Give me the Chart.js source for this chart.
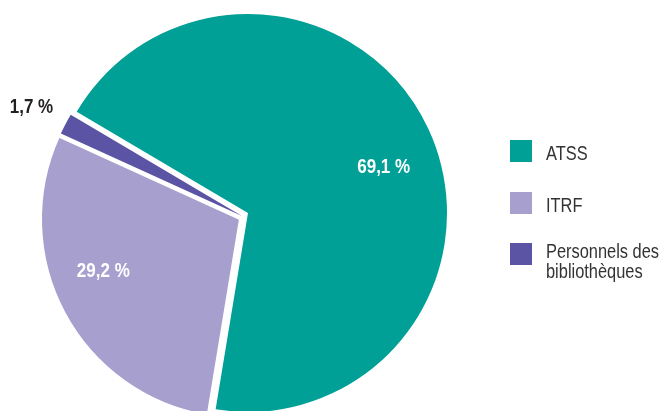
<!DOCTYPE html>
<html><head><meta charset="utf-8">
<script src="https://cdn.jsdelivr.net/npm/chart.js@4/dist/chart.umd.min.js"></script>
<style>
html,body{margin:0;padding:0;background:#fff;overflow:hidden;width:662px;height:411px}
#wrap{position:relative;width:662px;height:411px;overflow:hidden}
canvas{position:absolute}
#a{left:0;top:0}
#b{left:-8px;top:6px}
#c{left:-6px;top:3px}
#legend{position:absolute;left:0;top:0;width:662px;height:411px;font-family:"Liberation Sans",Arial,sans-serif;font-size:20px;color:#333}
.sw{position:absolute;width:22px;height:22px;left:510px}
.tx{position:absolute;left:546px;line-height:20px;white-space:nowrap;transform:scaleX(0.82);transform-origin:left top}
</style>
</head><body>
<div id="wrap">
<canvas id="a" width="662" height="440"></canvas>
<canvas id="c" width="662" height="440"></canvas>
<canvas id="b" width="662" height="440"></canvas>
<div id="legend"></div>
</div>
<script>
const categories = ["ATSS", "ITRF", "Personnels des\nbibliothèques"];
const values = [69.1, 29.2, 1.7];
const colors = ["#00a096", "#a7a0cf", "#5b53a3"];
const labelColors = ["#ffffff", "#ffffff", "#231f20"];

const LABEL_FONT = 'bold 20px "Liberation Sans",Arial,sans-serif';
const LABEL_SCALE_X = 0.85;
// per-slice label placement (radius factor, angular nudge in degrees)
const labelPlace = [[0.72, 6.3], [0.736, 7.0], [1.19, -0.3]];
// per-slice white outline width
const outline = [0, 2, 0];

function fmt(v){ return v.toFixed(1).replace('.', ',') + ' %'; }

function labelPlugin(i){
  return {
    id: 'sliceLabel',
    afterDatasetsDraw(chart){
      const ctx = chart.ctx;
      const arc = chart.getDatasetMeta(0).data[i];
      const p = arc.getProps(['x','y','startAngle','endAngle','outerRadius'], true);
      const mid = (p.startAngle + p.endAngle) / 2 + labelPlace[i][1] * Math.PI / 180;
      const r = p.outerRadius * labelPlace[i][0];
      ctx.save();
      ctx.translate(p.x + Math.cos(mid) * r, p.y + Math.sin(mid) * r);
      ctx.scale(LABEL_SCALE_X, 1);
      ctx.font = LABEL_FONT;
      ctx.textAlign = 'center';
      ctx.textBaseline = 'middle';
      ctx.fillStyle = labelColors[i];
      ctx.fillText(fmt(values[i]), 0, 0);
      ctx.restore();
    }
  };
}

// one canvas per slice, so each slice can be pulled out of the pie on its own
['a', 'b', 'c'].forEach((id, i) => {
  const bw = outline[i];
  const pad = bw / 2;
  new Chart(document.getElementById(id), {
    type: 'pie',
    data: { labels: categories, datasets: [{
      data: values,
      backgroundColor: colors.map((c, k) => k === i ? c : 'rgba(0,0,0,0)'),
      borderColor: colors.map((c, k) => k === i ? '#ffffff' : 'rgba(0,0,0,0)'),
      borderWidth: colors.map((c, k) => k === i ? bw : 0),
      hoverBorderWidth: colors.map((c, k) => k === i ? bw : 0)
    }]},
    options: {
      responsive: false,
      animation: false,
      events: [],
      rotation: 300.6,
      layout: { padding: { left: 49 - pad, top: 14 - pad, right: 215 - pad, bottom: 28 - pad } },
      plugins: { legend: { display: false }, tooltip: { enabled: false } }
    },
    plugins: [labelPlugin(i)]
  });
});

// HTML legend
const legend = document.getElementById('legend');
const swTops = [140, 191.7, 243.3];
const txTops = [143.4, 194.7, 241.4];
categories.forEach((c, i) => {
  const sw = document.createElement('div');
  sw.className = 'sw'; sw.style.top = swTops[i] + 'px'; sw.style.background = colors[i];
  legend.appendChild(sw);
  const tx = document.createElement('div');
  tx.className = 'tx'; tx.style.top = txTops[i] + 'px';
  c.split('\n').forEach((line, k) => {
    if (k) tx.appendChild(document.createElement('br'));
    tx.appendChild(document.createTextNode(line));
  });
  legend.appendChild(tx);
});
</script>
</body></html>
